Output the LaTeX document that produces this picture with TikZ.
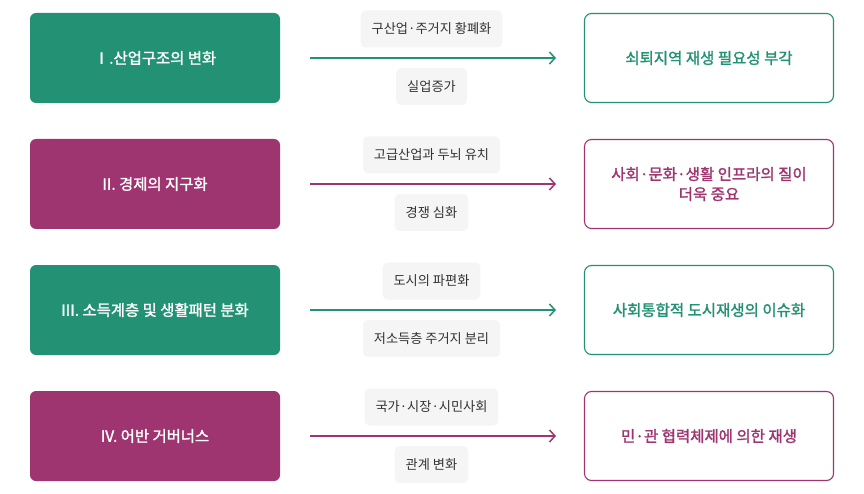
\documentclass[tikz,border=0pt]{standalone}
\usepackage{fontspec}
\setmainfont{Noto Sans CJK KR}
\newfontfamily\medfont[FakeBold=1.6]{Noto Sans CJK KR}
\usetikzlibrary{arrows.meta}
\definecolor{gr}{HTML}{239174}
\definecolor{pu}{HTML}{9E3470}
\definecolor{lbg}{HTML}{F5F5F5}
\definecolor{txt}{HTML}{333333}
\tikzset{
  lbox/.style={fill=#1, rounded corners=6pt, minimum width=250pt, minimum height=90pt, text=white, font=\medfont\fontsize{15.4}{18}\selectfont, inner sep=0pt},
  rbox/.style={draw=#1, line width=1.1pt, fill=white, rounded corners=7pt, minimum width=249pt, minimum height=89pt, text=#1, font=\medfont\fontsize{15.5}{20}\selectfont, align=center, inner sep=0pt},
  tag/.style={fill=lbg, rounded corners=5pt, minimum height=37pt, inner xsep=11pt, inner ysep=0pt, text=txt, font=\fontsize{13.2}{15}\selectfont},
  conn/.style={draw=#1, line width=1.5pt, -{Straight Barb[length=5.5pt,width=12pt,line width=1.5pt]}},
}
\begin{document}
\begin{tikzpicture}[x=1pt,y=-1pt]
\useasboundingbox (0,0) rectangle (864,494);
\foreach \i/\c/\L/\A/\B/\R in {
  0/gr/{Ⅰ.산업구조의 변화}/{구산업·주거지 황폐화}/{실업증가}/{쇠퇴지역 재생 필요성 부각},
  1/pu/{II. 경제의 지구화}/{고급산업과 두뇌 유치}/{경쟁 심화}/{사회·문화·생활 인프라의 질이\\더욱 중요},
  2/gr/{III. 소득계층 및 생활패턴 분화}/{도시의 파편화}/{저소득층 주거지 분리}/{사회통합적 도시재생의 이슈화},
  3/pu/{IV. 어반 거버너스}/{국가·시장·시민사회}/{관계 변화}/{민·관 협력체제에 의한 재생}}{
  \pgfmathsetmacro{\yy}{58+126*\i}
  \node[lbox=\c] (L\i) at (155,\yy) {\L};
  \node[rbox=\c] (R\i) at (709,\yy) {\R};
  \coordinate (S\i) at (310,\yy);
  \coordinate (E\i) at (556,\yy);
  \draw[conn=\c] (S\i) -- (E\i);
  \node[tag] (T\i) at (431.5,\yy-29) {\A};
  \node[tag] (B\i) at (431.5,\yy+28.5) {\B};
}
\end{tikzpicture}
\end{document}
